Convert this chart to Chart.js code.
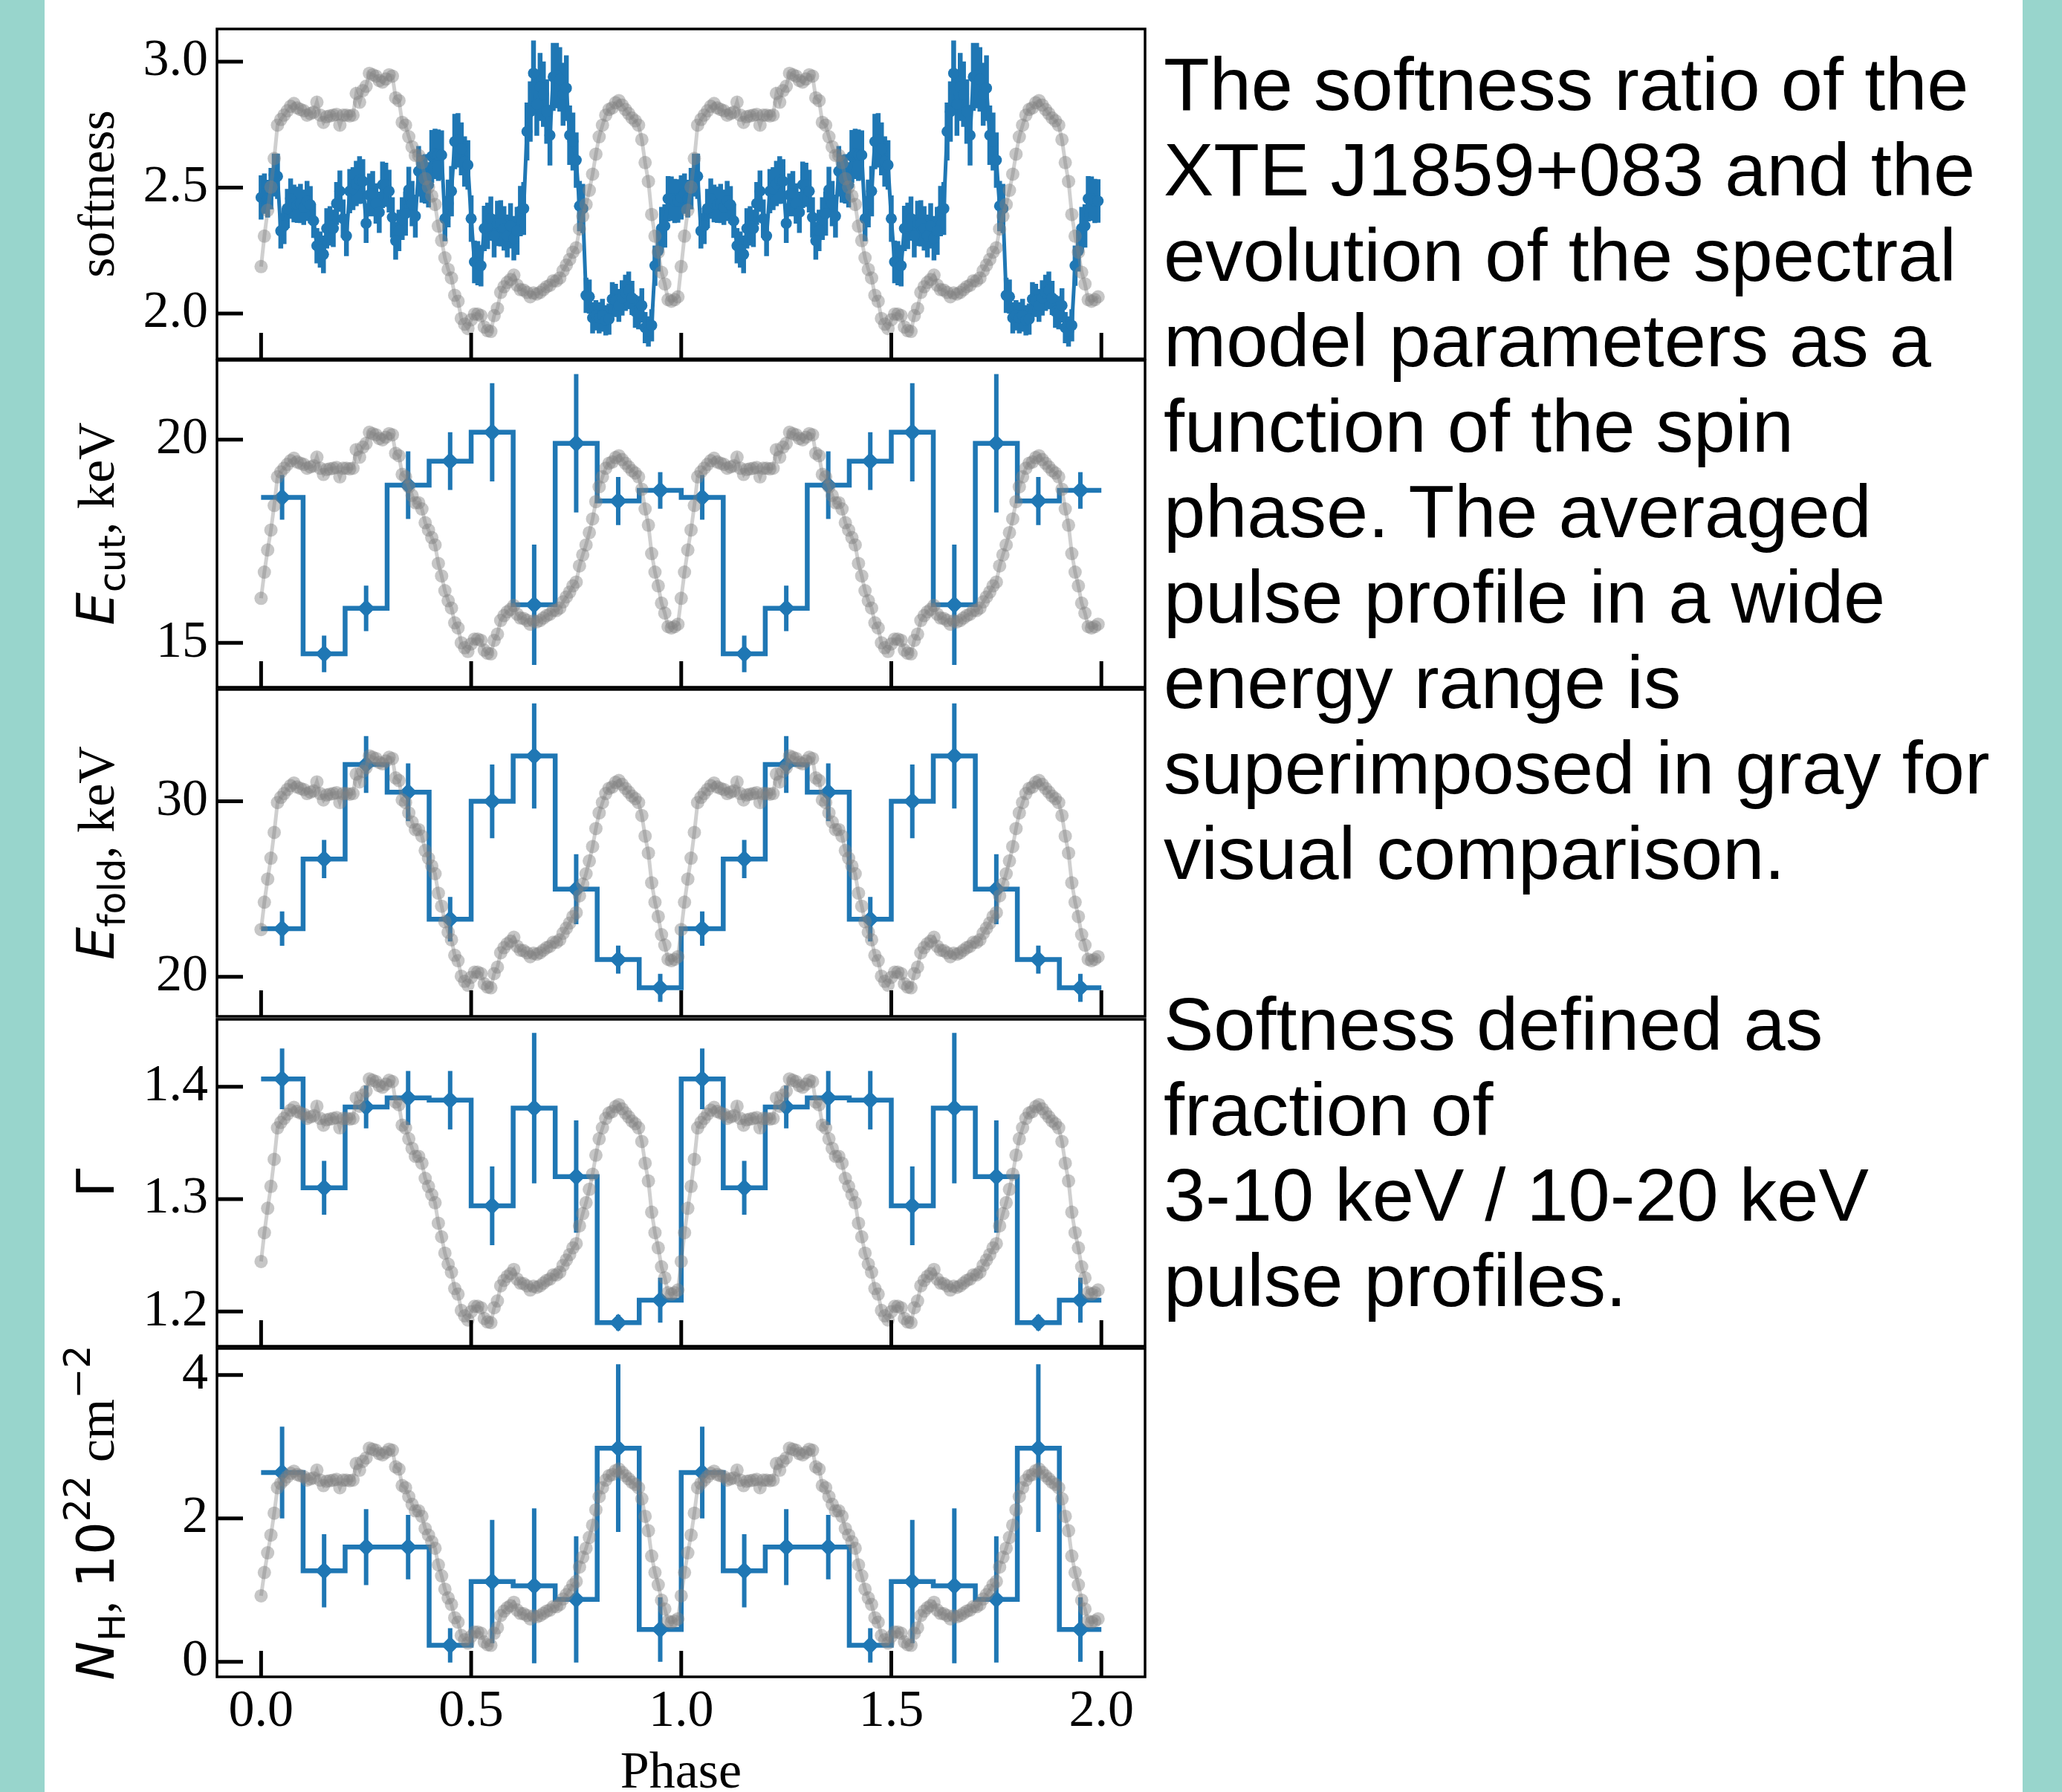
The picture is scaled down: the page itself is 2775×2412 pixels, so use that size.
<!DOCTYPE html>
<html>
<head>
<meta charset="utf-8">
<script src="https://cdn.jsdelivr.net/npm/chart.js@4.4.0/dist/chart.umd.min.js"></script>
<style>
  html, body { margin: 0; padding: 0; background: #fff; }
  body { width: 2775px; height: 2412px; position: relative; overflow: hidden; }
  .band { position: absolute; top: 0; height: 2412px; background: #98d5cc; }
  canvas { position: absolute; }
  #caption {
    position: absolute; left: 1566px; top: 56px;
    font-family: "Liberation Sans", Arial, sans-serif;
    font-size: 101px; line-height: 115px; color: #000; white-space: pre;
  }
</style>
</head>
<body>
<div class="band" style="left:0;width:60px"></div>
<div class="band" style="left:2722px;width:53px"></div>
<canvas id="p0"></canvas>
<canvas id="p1"></canvas>
<canvas id="p2"></canvas>
<canvas id="p3"></canvas>
<canvas id="p4"></canvas>
<div id="caption">The softness ratio of the
XTE J1859+083 and the
evolution of the spectral
model parameters as a
function of the spin
phase. The averaged
pulse profile in a wide
energy range is
superimposed in gray for
visual comparison.

Softness defined as
fraction of
3-10 keV / 10-20 keV
pulse profiles.</div>
<script>
// Pulse profile, one period, 128 bins, normalised 0 (min) .. 1 (max)
const pulseProfile = [
  0.251,0.369,0.469,0.559,0.670,0.799,0.821,0.838,0.855,0.872,
  0.883,0.866,0.860,0.855,0.838,0.844,0.849,0.888,0.838,0.810,
  0.832,0.835,0.838,0.841,0.799,0.838,0.838,0.835,0.838,0.922,
  0.888,0.933,0.950,1.000,0.994,0.989,0.972,0.966,0.978,0.994,
  0.989,0.905,0.894,0.810,0.799,0.754,0.715,0.682,0.682,0.654,
  0.592,0.559,0.525,0.492,0.408,0.352,0.285,0.240,0.207,0.140,
  0.117,0.050,0.028,0.011,0.045,0.067,0.067,0.061,0.017,0.003,
  0.000,0.061,0.089,0.151,0.173,0.190,0.201,0.218,0.179,0.162,
  0.160,0.151,0.134,0.149,0.145,0.151,0.162,0.173,0.179,0.196,
  0.196,0.207,0.235,0.257,0.279,0.307,0.324,0.397,0.447,0.492,
  0.547,0.609,0.687,0.754,0.799,0.838,0.860,0.866,0.886,0.894,
  0.877,0.860,0.844,0.827,0.816,0.799,0.743,0.654,0.581,0.453,
  0.369,0.307,0.229,0.184,0.123,0.117,0.123,0.134
];

// Softness ratio, one period, 128 bins
const softness = [
  2.461,2.476,2.456,2.496,2.550,2.545,2.328,2.348,2.417,2.456,
  2.437,2.432,2.437,2.422,2.447,2.432,2.368,2.269,2.254,2.235,
  2.338,2.348,2.338,2.437,2.486,2.377,2.308,2.486,2.496,2.516,
  2.530,2.525,2.358,2.471,2.476,2.437,2.402,2.511,2.511,2.486,
  2.382,2.289,2.330,2.377,2.397,2.491,2.437,2.387,2.565,2.535,
  2.535,2.511,2.624,2.634,2.629,2.629,2.377,2.437,2.486,2.683,
  2.688,2.654,2.604,2.590,2.377,2.205,2.200,2.190,2.338,2.348,
  2.377,2.308,2.358,2.358,2.338,2.308,2.348,2.299,2.328,2.407,
  2.417,2.723,2.802,2.954,2.831,2.900,2.871,2.802,2.708,2.940,
  2.945,2.930,2.871,2.895,2.708,2.683,2.609,2.427,2.417,2.072,
  2.067,1.983,1.993,1.983,1.993,1.973,1.978,2.057,2.052,2.032,
  2.062,2.082,2.092,2.062,2.008,2.003,2.032,1.944,1.929,1.953,
  2.190,2.249,2.338,2.348,2.456,2.456,2.447,2.447
];
const softnessErr = [
  0.088,0.080,0.075,0.082,0.085,0.090,0.070,0.072,0.078,0.080,
  0.075,0.072,0.078,0.070,0.080,0.074,0.068,0.070,0.072,0.075,
  0.080,0.078,0.074,0.085,0.082,0.076,0.080,0.088,0.085,0.090,
  0.095,0.088,0.078,0.085,0.090,0.080,0.082,0.092,0.088,0.085,
  0.080,0.075,0.082,0.085,0.088,0.092,0.090,0.085,0.100,0.095,
  0.098,0.090,0.105,0.100,0.102,0.098,0.090,0.095,0.100,0.110,
  0.108,0.105,0.100,0.098,0.092,0.085,0.088,0.082,0.090,0.092,
  0.088,0.085,0.090,0.092,0.088,0.085,0.090,0.088,0.095,0.100,
  0.105,0.115,0.120,0.130,0.125,0.135,0.130,0.128,0.120,0.135,
  0.130,0.128,0.125,0.130,0.118,0.115,0.110,0.100,0.098,0.070,
  0.068,0.062,0.060,0.062,0.065,0.060,0.062,0.068,0.066,0.065,
  0.070,0.072,0.075,0.068,0.065,0.066,0.068,0.062,0.060,0.064,
  0.080,0.082,0.085,0.086,0.090,0.088,0.088,0.086
];

// Spectral parameters, 10 phase bins
const binCenters = [0.05, 0.15, 0.25, 0.35, 0.45, 0.55, 0.65, 0.75, 0.85, 0.95];
const BIN_HALF = 0.05;
const eCut     = [18.58, 14.73, 15.85, 18.88, 19.47, 20.18, 15.94, 19.91, 18.49, 18.75];
const eCutErr  = [0.55, 0.45, 0.56, 0.83, 0.71, 1.21, 1.48, 1.70, 0.59, 0.45];
const eFold    = [22.74, 26.71, 32.10, 30.52, 23.28, 30.00, 32.59, 24.99, 20.98, 19.37];
const eFoldErr = [0.98, 1.09, 1.62, 1.65, 1.27, 2.10, 3.00, 2.00, 0.80, 0.80];
const gamma    = [1.407, 1.310, 1.382, 1.390, 1.388, 1.294, 1.381, 1.320, 1.190, 1.210];
const gammaErr = [0.027, 0.024, 0.019, 0.024, 0.026, 0.035, 0.067, 0.050, 0.007, 0.020];
const nH       = [2.64, 1.27, 1.60, 1.60, 0.23, 1.12, 1.06, 0.87, 2.98, 0.45];
const nHErr    = [0.64, 0.51, 0.53, 0.45, 0.24, 0.86, 1.08, 0.88, 1.17, 0.45];

// tick labels
const phaseTicks    = ['0.0', '0.5', '1.0', '1.5', '2.0'];
const softnessTicks = ['2.0', '2.5', '3.0'];
const eCutTicks     = ['15', '20'];
const eFoldTicks    = ['20', '30'];
const gammaTicks    = ['1.2', '1.3', '1.4'];
const nHTicks       = ['0', '2', '4'];

const PERIODS = 2;
const BLUE = '#1f77b4';

// layout (page pixels)
const PANEL_TOPS = [39, 483, 926, 1370, 1813];
const PANEL_H = 444;
const AREA_LEFT = 292, AREA_RIGHT = 1541, CANVAS_LEFT = 42, PAD = 10;
const TICK_LEN = 35;
const SERIF = '"Liberation Serif", "Times New Roman", serif';
const SANS = '"DejaVu Sans", sans-serif';

Chart.defaults.animation = false;
Chart.defaults.events = [];

function profilePoints(vals, errs) {
  const out = [];
  for (let p = 0; p < PERIODS; p++) {
    vals.forEach((v, i) => out.push({ x: p + i / vals.length, y: v, e: errs ? errs[i] : 0 }));
  }
  return out;
}
function binPoints(vals, errs) {
  const out = [];
  for (let p = 0; p < PERIODS; p++) {
    binCenters.forEach((c, i) => out.push({ x: p + c, y: vals[i], e: errs[i] }));
  }
  return out;
}
function stepPoints(vals) {
  const out = [];
  for (let p = 0; p < PERIODS; p++) {
    binCenters.forEach((c, i) => out.push({ x: p + c - BIN_HALF, y: vals[i] }));
  }
  out.push({ x: PERIODS, y: vals[vals.length - 1] });
  return out;
}

const panels = [
  { values: softness, errors: softnessErr, kind: 'profile', min: 1.82, max: 3.13, ticks: softnessTicks,
    title: [{ text: 'softness', font: '70px ' + SERIF }] },
  { values: eCut, errors: eCutErr, kind: 'steps', min: 13.91, max: 21.95, ticks: eCutTicks,
    title: [{ text: 'E', font: 'italic 70px ' + SANS }, { text: 'cut', font: '49px ' + SANS, dy: 15 },
            { text: ', keV', font: '70px ' + SERIF }] },
  { values: eFold, errors: eFoldErr, kind: 'steps', min: 17.74, max: 36.38, ticks: eFoldTicks,
    title: [{ text: 'E', font: 'italic 70px ' + SANS }, { text: 'fold', font: '49px ' + SANS, dy: 15 },
            { text: ', keV', font: '70px ' + SERIF }] },
  { values: gamma, errors: gammaErr, kind: 'steps', min: 1.169, max: 1.460, ticks: gammaTicks,
    title: [{ text: 'Γ', font: '70px ' + SANS }] },
  { values: nH, errors: nHErr, kind: 'steps', min: -0.21, max: 4.37, ticks: nHTicks,
    title: [{ text: 'N', font: 'italic 70px ' + SANS }, { text: 'H', font: '49px ' + SANS, dy: 15 },
            { text: ', ', font: '70px ' + SERIF }, { text: '10', font: '70px ' + SANS },
            { text: '22', font: '49px ' + SANS, dy: -32 }, { text: ' cm', font: '70px ' + SERIF },
            { text: '\u22122', font: '49px ' + SANS, dy: -32 }] }
];

function drawRotated(ctx, segs, bx, cy) {
  let total = 0;
  segs.forEach(s => { ctx.font = s.font; s.w = ctx.measureText(s.text).width; total += s.w; });
  ctx.save();
  ctx.translate(bx, cy);
  ctx.rotate(-Math.PI / 2);
  ctx.fillStyle = '#000';
  ctx.textAlign = 'left';
  ctx.textBaseline = 'alphabetic';
  let x = -total / 2;
  segs.forEach(s => { ctx.font = s.font; ctx.fillText(s.text, x, s.dy || 0); x += s.w; });
  ctx.restore();
}

// vertical error bars, drawn just before their dataset
const errorBars = {
  id: 'errorBars',
  beforeDatasetDraw(chart, args) {
    const ds = chart.data.datasets[args.index];
    if (!ds.errorWidth) return;
    const xs = chart.scales[args.meta.xAxisID], ys = chart.scales[args.meta.yAxisID];
    const ctx = chart.ctx, a = chart.chartArea;
    ctx.save();
    ctx.beginPath();
    ctx.rect(a.left, a.top, a.right - a.left, a.bottom - a.top);
    ctx.clip();
    ctx.strokeStyle = BLUE;
    ctx.lineWidth = ds.errorWidth;
    ctx.beginPath();
    ds.data.forEach(d => {
      const px = xs.getPixelForValue(d.x);
      ctx.moveTo(px, ys.getPixelForValue(d.y - d.e));
      ctx.lineTo(px, ys.getPixelForValue(d.y + d.e));
    });
    ctx.stroke();
    ctx.restore();
  }
};

function decor(panel, isBottom, canvasTop) {
  return {
    id: 'decor',
    afterDraw(chart) {
      const ctx = chart.ctx, a = chart.chartArea;
      const xs = chart.scales.x, ys = chart.scales.y;
      ctx.save();
      ctx.strokeStyle = '#000';
      ctx.lineWidth = 5;
      ctx.beginPath();
      xs.ticks.forEach(t => {
        const px = xs.getPixelForValue(t.value);
        ctx.moveTo(px, a.bottom); ctx.lineTo(px, a.bottom - TICK_LEN);
      });
      ys.ticks.forEach(t => {
        const py = ys.getPixelForValue(t.value);
        ctx.moveTo(a.left, py); ctx.lineTo(a.left + TICK_LEN, py);
      });
      ctx.stroke();
      ctx.lineWidth = 3.5;
      ctx.strokeRect(a.left, a.top, a.right - a.left, a.bottom - a.top);
      drawRotated(ctx, panel.title, 153 - CANVAS_LEFT, (a.top + a.bottom) / 2);
      if (isBottom) {
        ctx.fillStyle = '#000';
        ctx.font = '70px ' + SERIF;
        ctx.textAlign = 'center';
        ctx.textBaseline = 'alphabetic';
        ctx.fillText('Phase', (a.left + a.right) / 2, 2406 - canvasTop);
      }
      ctx.restore();
    }
  };
}

function noPadding(s) {
  s.paddingTop = 0; s.paddingBottom = 0; s.paddingLeft = 0; s.paddingRight = 0;
}

panels.forEach((panel, idx) => {
  const isBottom = idx === panels.length - 1;
  const canvas = document.getElementById('p' + idx);
  const top = PANEL_TOPS[idx] - PAD;
  const xAxisH = isBottom ? 150 : 0;
  const height = isBottom ? 2412 - top : PANEL_H + 2 * PAD;
  const width = AREA_RIGHT + 12 - CANVAS_LEFT;
  canvas.width = width; canvas.height = height;
  canvas.style.left = CANVAS_LEFT + 'px'; canvas.style.top = top + 'px';
  canvas.style.width = width + 'px'; canvas.style.height = height + 'px';

  const dMin = Math.min(...panel.values), dMax = Math.max(...panel.values);
  const span = dMax - dMin;

  const gray = {
    data: profilePoints(pulseProfile),
    yAxisID: 'yp',
    borderColor: 'rgba(128,128,128,0.38)',
    borderWidth: 5,
    pointRadius: 9,
    pointBackgroundColor: 'rgba(128,128,128,0.45)',
    pointBorderWidth: 0,
    tension: 0
  };
  const datasets = [gray];
  if (panel.kind === 'profile') {
    datasets.push({
      data: profilePoints(panel.values, panel.errors),
      yAxisID: 'y',
      borderColor: BLUE, borderWidth: 5,
      pointRadius: 7.5, pointBackgroundColor: BLUE, pointBorderWidth: 0,
      errorWidth: 6.5
    });
  } else {
    datasets.push({
      data: binPoints(panel.values, panel.errors),
      yAxisID: 'y', showLine: false,
      pointStyle: 'rectRot', pointRadius: 12,
      pointBackgroundColor: BLUE, pointBorderWidth: 0,
      errorWidth: 6
    });
    datasets.push({
      data: stepPoints(panel.values),
      yAxisID: 'y', stepped: true,
      borderColor: BLUE, borderWidth: 6.5, pointRadius: 0
    });
  }

  new Chart(canvas, {
    type: 'line',
    data: { datasets },
    options: {
      responsive: false,
      maintainAspectRatio: false,
      layout: { padding: { left: 0, right: 12, top: PAD, bottom: isBottom ? height - PAD - PANEL_H - xAxisH : PAD } },
      plugins: { legend: { display: false }, tooltip: { enabled: false } },
      scales: {
        x: {
          type: 'linear', min: -0.105, max: 2.104,
          grid: { display: false, drawTicks: false },
          border: { display: false },
          afterBuildTicks: s => { s.ticks = phaseTicks.map(v => ({ value: Number(v) })); },
          afterFit: s => { s.height = xAxisH; noPadding(s); },
          ticks: {
            display: isBottom, padding: 6, maxRotation: 0, autoSkip: false, color: '#000',
            font: { family: 'Liberation Serif', size: 70 },
            callback: (v, i) => phaseTicks[i]
          }
        },
        y: {
          type: 'linear', position: 'left', min: panel.min, max: panel.max,
          grid: { display: false, drawTicks: false },
          border: { display: false },
          afterBuildTicks: s => { s.ticks = panel.ticks.map(v => ({ value: Number(v) })); },
          afterFit: s => { s.width = AREA_LEFT - CANVAS_LEFT; noPadding(s); },
          ticks: {
            padding: 12, color: '#000',
            font: { family: 'Liberation Serif', size: 70 },
            callback: (v, i) => panel.ticks[i]
          }
        },
        yp: {
          type: 'linear', display: false,
          min: (panel.min - dMin) / span,
          max: (panel.max - dMin) / span
        }
      }
    },
    plugins: [errorBars, decor(panel, isBottom, top)]
  });
});
</script>
</body>
</html>
